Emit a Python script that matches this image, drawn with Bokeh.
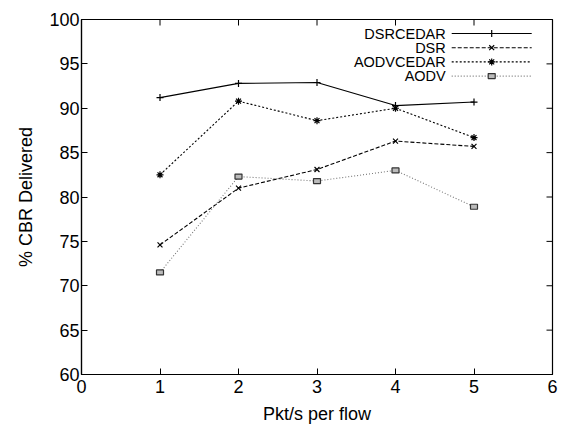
import math
from bokeh.plotting import figure
from bokeh.models import Range1d, FixedTicker
from bokeh.embed import file_html
from bokeh.resources import INLINE
from bokeh.core.properties import value

# ---- data ----
pkt_rate = [1, 2, 3, 4, 5]
dsrcedar = [91.2, 92.8, 92.9, 90.3, 90.7]
dsr = [74.6, 81.0, 83.1, 86.3, 85.7]
aodvcedar = [82.5, 90.8, 88.6, 90.0, 86.7]
aodv = [71.5, 82.3, 81.8, 83.0, 78.9]
series_names = ["DSRCEDAR", "DSR", "AODVCEDAR", "AODV"]
x_ticks = [0, 1, 2, 3, 4, 5, 6]
y_ticks = [60, 65, 70, 75, 80, 85, 90, 95, 100]
x_label = "Pkt/s per flow"
y_label = "% CBR Delivered"

FONT = "Liberation Sans"
X_MIN, X_MAX = x_ticks[0], x_ticks[-1]
Y_MIN, Y_MAX = y_ticks[0], y_ticks[-1]

p = figure(width=565, height=428, output_backend="svg", toolbar_location=None,
           x_range=Range1d(X_MIN, X_MAX), y_range=Range1d(Y_MIN, Y_MAX),
           min_border_left=81, min_border_right=13, min_border_top=19,
           min_border_bottom=54)
p.xgrid.visible = False
p.ygrid.visible = False
p.outline_line_color = "black"
p.outline_line_width = 1.2
p.background_fill_color = "white"
p.border_fill_color = "white"

def style_axis(ax):
    ax.axis_line_color = "black"
    ax.axis_line_width = 1.2
    ax.major_tick_in = 6
    ax.major_tick_out = 0
    ax.major_tick_line_color = "black"
    ax.minor_tick_line_color = None
    ax.major_label_text_font = FONT
    ax.major_label_text_color = "black"
    ax.major_label_text_font_size = "18px"
    ax.axis_label_text_font = FONT
    ax.axis_label_text_font_style = "normal"
    ax.axis_label_text_font_size = "18px"
    ax.axis_label_text_color = "black"

xa = p.xaxis[0]
xa.ticker = FixedTicker(ticks=x_ticks)
style_axis(xa)
xa.major_label_standoff = 5
xa.axis_label = x_label
xa.axis_label_standoff = 8

ya = p.yaxis[0]
ya.ticker = FixedTicker(ticks=y_ticks)
style_axis(ya)
ya.major_label_standoff = 2
ya.axis_label = y_label
ya.axis_label_standoff = 10

# mirrored inward tick marks on the top and right edges (clipped to the frame)
p.scatter(x_ticks, [Y_MAX] * len(x_ticks), marker="dash", angle=math.pi / 2,
          size=12, line_color="black", line_width=1)
p.scatter([X_MAX] * len(y_ticks), y_ticks, marker="dash", size=12,
          line_color="black", line_width=1)

styles = [
    dict(data=dsrcedar, dash="solid", color="black", marker="cross"),
    dict(data=dsr, dash="4 2", color="black", marker="x"),
    dict(data=aodvcedar, dash="2 2", color="black", marker="asterisk"),
    dict(data=aodv, dash="1 2", color="#777777", marker="box"),
]

def draw_marker(xs, ys, st):
    if st["marker"] == "box":
        p.rect(xs, ys, width=7, height=5, width_units="screen", height_units="screen",
               fill_color="#bbbbbb", line_color="#333333", line_width=1.2)
    else:
        p.scatter(xs, ys, marker=st["marker"], size=7, line_color="black",
                  line_width=1.2)

for st in styles:
    p.line(pkt_rate, st["data"], line_color=st["color"], line_width=1.1,
           line_dash=st["dash"])
    draw_marker(pkt_rate, st["data"], st)

# ---- key (gnuplot style: text right-aligned, sample on its right) ----
key_text_x = 4.64
key_line_x0, key_line_x1 = 4.716, 5.735
key_y0, key_dy = 98.42, 1.6
for i, (name, st) in enumerate(zip(series_names, styles)):
    ky = key_y0 - i * key_dy
    p.text(x=[key_text_x], y=[ky], text=[name], text_align="right",
           text_baseline="middle", text_font=value(FONT), text_font_size="14.5px",
           text_color="black")
    p.line([key_line_x0, key_line_x1], [ky, ky], line_color=st["color"],
           line_width=1.1, line_dash=st["dash"])
    draw_marker([(key_line_x0 + key_line_x1) / 2], [ky], st)

open("out.html", "w").write(file_html(p, INLINE))
